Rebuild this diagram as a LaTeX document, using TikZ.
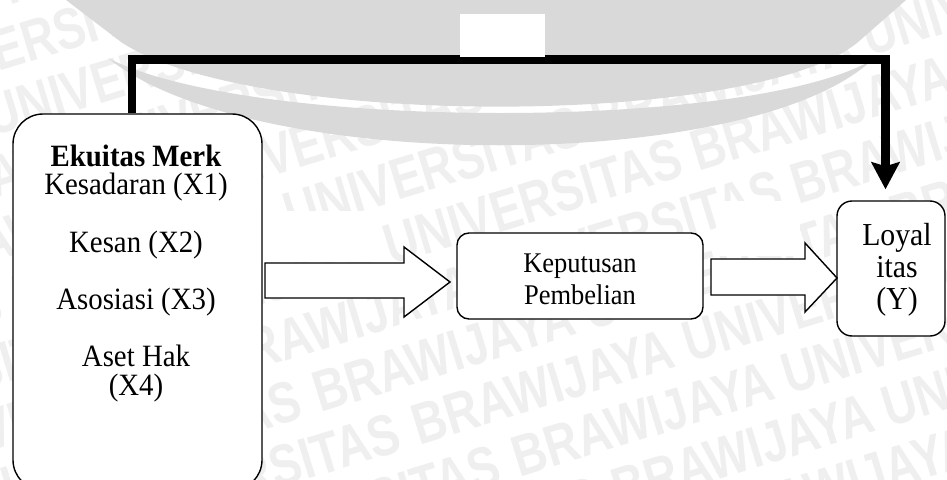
\documentclass[tikz,border=0pt]{standalone}
\usepackage{fontspec}
\setmainfont[FakeStretch=0.93]{Liberation Serif}
\newfontfamily\wmfont[FakeStretch=0.8]{Liberation Sans}
\usetikzlibrary{arrows.meta,calc}
\definecolor{arcgray}{RGB}{217,217,217}
\definecolor{wmgray}{RGB}{239,239,239}
\begin{document}
\begin{tikzpicture}[x=1pt,y=-1pt,
  box/.style={draw=black,line width=1.4pt,fill=white,rounded corners=#1,inner sep=0pt},
  blk/.style={draw=black,line width=1.4pt,fill=white,line join=miter},
  conn/.style={draw=black,line width=8.5pt,line join=miter,
    -{Stealth[length=27pt,width=28pt,inset=4pt]}},
  bigtxt/.style={font=\fontsize{31}{31}\selectfont,anchor=base,inner sep=0pt},
  midtxt/.style={font=\fontsize{28.5}{28.5}\selectfont,anchor=base,inner sep=0pt},
  lytxt/.style={font=\fontsize{32}{32}\selectfont,anchor=base,inner sep=0pt},
  wm/.style={font=\wmfont\bfseries\fontsize{58}{58}\selectfont,text=wmgray,
    rotate=17,inner sep=0pt,anchor=base west}]
\useasboundingbox (0,0) rectangle (947,479);
\begin{scope}
\clip (0,0) rectangle (947,479);
% watermark text
\foreach \k in {-10,...,5} {
  \pgfmathsetmacro{\px}{320+\k*99.7}
  \pgfmathsetmacro{\py}{413+\k*32.3}
  \node[wm] (w\k) at (\px,\py) {\llap{UNIVERSITAS BRAWIJAYA UNIVERSITAS BRAWIJAYA UNIVERSITAS\hspace{0.278em}}BRAWIJAYA UNIVERSITAS BRAWIJAYA UNIVERSITAS BRAWIJAYA UNIVERSITAS};
}
% grey arcs
\fill[arcgray] (66,0) -- (121,42) .. controls (250,128) and (750,128) .. (857,43) -- (906,0) -- cycle;
\fill[arcgray] (108,58) .. controls (250,131) and (750,131) .. (872,60)
  .. controls (750,174) and (250,174) .. cycle;
% white empty text boxes
\fill[white] (262,211) rectangle (380,262);
\fill[white] (716,201) rectangle (800,256);
% boxes
\node[box=30pt,minimum width=249pt,minimum height=376pt] (em) at (137.5,302) {};
\node[box=12pt,minimum width=246pt,minimum height=86pt] (kp) at (580,276) {};
\node[box=15pt,minimum width=108pt,minimum height=135pt] (ly) at (891,268.5) {};
\end{scope}
% texts
\node[bigtxt] (t1) at (136,166) {\textbf{Ekuitas Merk}};
\node[bigtxt] (t2) at (136,194.5) {Kesadaran (X1)};
\node[bigtxt] (t3) at (136,252) {Kesan (X2)};
\node[bigtxt] (t4) at (136,309) {Asosiasi (X3)};
\node[bigtxt] (t5) at (136,366.5) {Aset Hak};
\node[bigtxt] (t6) at (136,395) {(X4)};
\node[midtxt] (k1) at (580,272) {Keputusan};
\node[midtxt] (k2) at (580,304) {Pembelian};
\node[lytxt] (l1) at (897,245) {Loyal};
\node[lytxt] (l2) at (897,277) {itas};
\node[lytxt] (l3) at (897,309) {(Y)};
% block arrows
\draw[blk] (265,263) -- (404,263) -- (404,247) -- (450,282) -- (404,317) -- (404,298) -- (265,298) -- cycle;
\draw[blk] (711,259) -- (805,259) -- (805,243) -- (837,278) -- (805,312) -- (805,295) -- (711,295) -- cycle;
% thick connector
\coordinate (c1) at (132,59.5);
\coordinate (c2) at (885.5,59.5);
\draw[conn,shorten >=11pt] ([xshift=-5.5pt]em.north) -- (c1) -- (c2) -- ([xshift=-5.5pt]ly.north);
\fill[white] (460,14) rectangle (545,57);
\end{tikzpicture}
\end{document}
